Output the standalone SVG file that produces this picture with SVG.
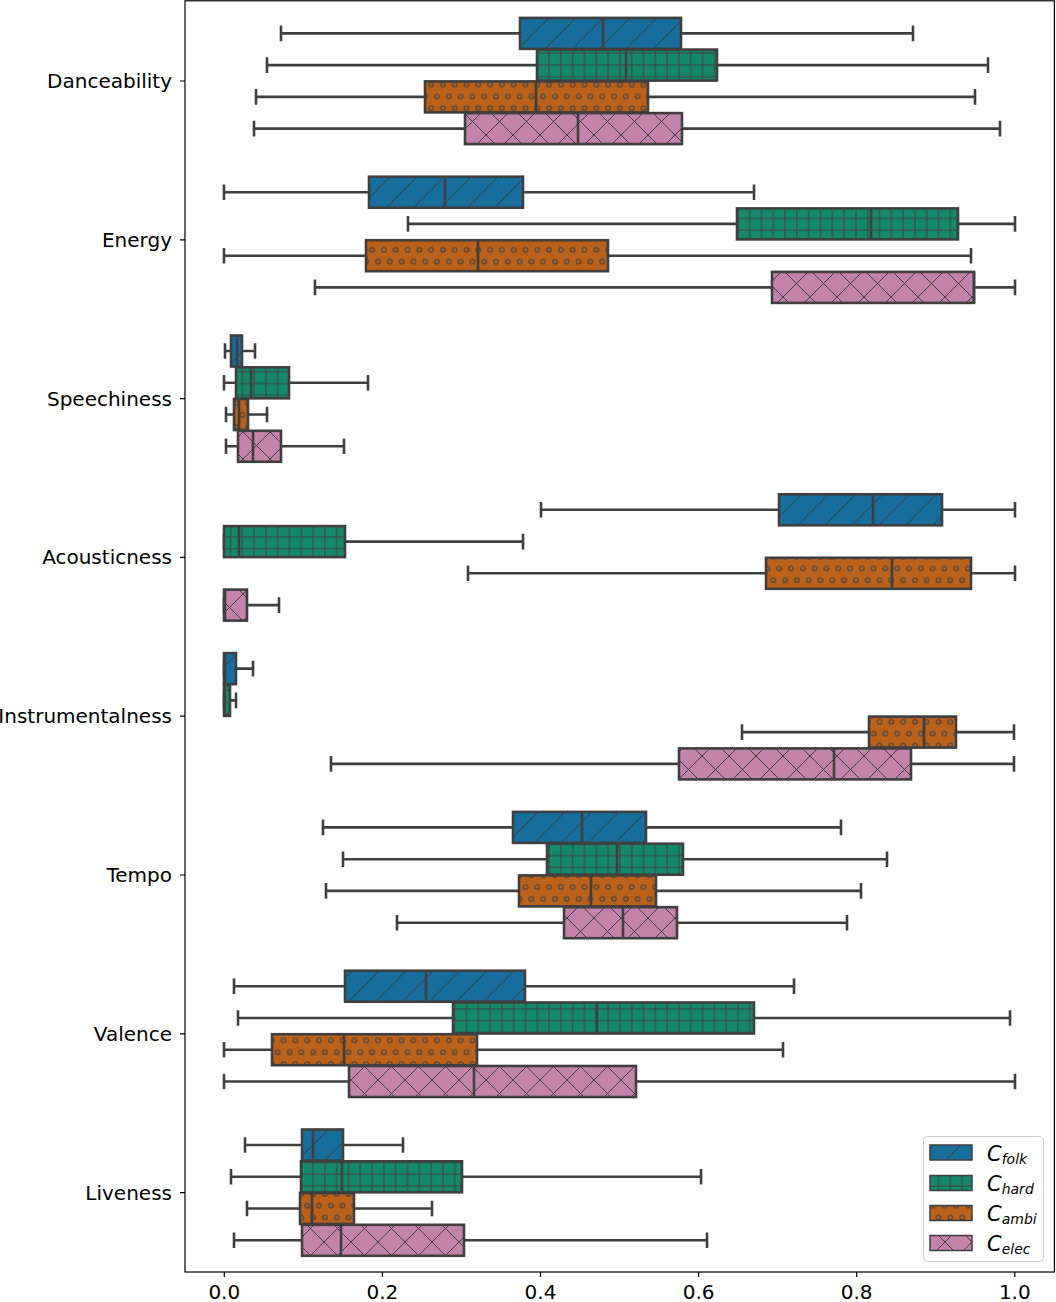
<svg xmlns="http://www.w3.org/2000/svg" width="1056" height="1302" viewBox="0 0 1056 1302">
<defs>
<style>
.wk{fill:none;stroke:#3f3f3f;stroke-width:2.6}
.bx{stroke:#3f3f3f;stroke-width:2.6}
.md{fill:none;stroke:#3f3f3f;stroke-width:2.6}
.pf{fill:url(#hatch-folk)}
.ph{fill:url(#hatch-hard)}
.pa{fill:url(#hatch-ambi)}
.pe{fill:url(#hatch-elec)}
.lbl{font-family:"DejaVu Sans",sans-serif;font-size:20px;fill:#000}
.tk{stroke:#000;stroke-width:1.2}
.lg{font-family:"DejaVu Sans",sans-serif;font-style:italic;fill:#000}
</style>
<pattern id="hatch-folk" patternUnits="userSpaceOnUse" width="27" height="27">
<rect width="27" height="27" fill="#176d9c"/>
<path d="M-1 28L28 -1M-1 1L1 -1M26 28L28 26" stroke="#3f3f3f" stroke-width="1"/>
</pattern>
<pattern id="hatch-hard" patternUnits="userSpaceOnUse" width="11.8" height="11.8" x="0.4">
<rect width="11.8" height="11.8" fill="#158a6a"/>
<path d="M5.9 0V11.8M0 5.9H11.8" stroke="#3f3f3f" stroke-width="1"/>
</pattern>
<pattern id="hatch-ambi" patternUnits="userSpaceOnUse" width="11.8" height="23.6" x="0.4" y="2">
<rect width="11.8" height="23.6" fill="#ba611b"/>
<g fill="none" stroke="#3f3f3f" stroke-width="1">
<circle cx="0" cy="0" r="2.3"/><circle cx="11.8" cy="0" r="2.3"/><circle cx="0" cy="23.6" r="2.3"/><circle cx="11.8" cy="23.6" r="2.3"/><circle cx="5.9" cy="11.8" r="2.3"/>
</g>
</pattern>
<pattern id="hatch-elec" patternUnits="userSpaceOnUse" width="27" height="27">
<rect width="27" height="27" fill="#c383ab"/>
<path d="M-1 28L28 -1M-1 1L1 -1M26 28L28 26M-1 -1L28 28M-1 26L1 28M26 -1L28 1" stroke="#3f3f3f" stroke-width="1"/>
</pattern>
</defs>
<rect width="1056" height="1302" fill="#fff"/>

<g id="axes">
<rect x="185" y="0.8" width="869.4" height="1271.2" fill="none" stroke="#000" stroke-width="1.2"/>
<g class="tk">
<path d="M180 81H185M180 239.8H185M180 398.6H185M180 557.4H185M180 716.2H185M180 875H185M180 1033.8H185M180 1192.6H185"/>
<path d="M224.3 1272V1277M382.4 1272V1277M540.5 1272V1277M698.6 1272V1277M856.7 1272V1277M1014.8 1272V1277"/>
</g>
<g class="lbl" text-anchor="end">
<text x="172" y="88">Danceability</text>
<text x="172" y="246.8">Energy</text>
<text x="172" y="405.6">Speechiness</text>
<text x="172" y="564.4">Acousticness</text>
<text x="172" y="723.2">Instrumentalness</text>
<text x="172" y="882">Tempo</text>
<text x="172" y="1040.8">Valence</text>
<text x="172" y="1199.6">Liveness</text>
</g>
<g class="lbl" text-anchor="middle">
<text x="224.3" y="1299">0.0</text>
<text x="382.4" y="1299">0.2</text>
<text x="540.5" y="1299">0.4</text>
<text x="698.6" y="1299">0.6</text>
<text x="856.7" y="1299">0.8</text>
<text x="1014.8" y="1299">1.0</text>
</g>
</g>

<g id="boxes">
<g id="danceability-folk"><path class="wk" d="M281 33.4H520M681 33.4H913M281 25.6V41.2M913 25.6V41.2"/><rect class="bx pf" x="520" y="17.9" width="161" height="31"/><path class="md" d="M603 17.9V48.9"/></g>
<g id="danceability-hard"><path class="wk" d="M267 65.1H537M717 65.1H988M267 57.3V72.9M988 57.3V72.9"/><rect class="bx ph" x="537" y="49.6" width="180" height="31"/><path class="md" d="M626 49.6V80.6"/></g>
<g id="danceability-ambi"><path class="wk" d="M256 96.9H425M648 96.9H975M256 89.1V104.7M975 89.1V104.7"/><rect class="bx pa" x="425" y="81.4" width="223" height="31"/><path class="md" d="M536 81.4V112.4"/></g>
<g id="danceability-elec"><path class="wk" d="M254 128.6H465M682 128.6H1000M254 120.8V136.4M1000 120.8V136.4"/><rect class="bx pe" x="465" y="113.1" width="217" height="31"/><path class="md" d="M578 113.1V144.1"/></g>

<g id="energy-folk"><path class="wk" d="M224 192.2H369M523 192.2H754M224 184.4V200M754 184.4V200"/><rect class="bx pf" x="369" y="176.7" width="154" height="31"/><path class="md" d="M445 176.7V207.7"/></g>
<g id="energy-hard"><path class="wk" d="M408 223.9H737M958 223.9H1015M408 216.1V231.7M1015 216.1V231.7"/><rect class="bx ph" x="737" y="208.4" width="221" height="31"/><path class="md" d="M871 208.4V239.4"/></g>
<g id="energy-ambi"><path class="wk" d="M224 255.7H366M608 255.7H971M224 247.9V263.5M971 247.9V263.5"/><rect class="bx pa" x="366" y="240.2" width="242" height="31"/><path class="md" d="M478 240.2V271.2"/></g>
<g id="energy-elec"><path class="wk" d="M315 287.4H772M974 287.4H1015M315 279.6V295.2M1015 279.6V295.2"/><rect class="bx pe" x="772" y="271.9" width="202" height="31"/><path class="md" d="M974 271.9V302.9"/></g>

<g id="speechiness-folk"><path class="wk" d="M225 351H231M242 351H255M225 343.2V358.8M255 343.2V358.8"/><rect class="bx pf" x="231" y="335.5" width="11" height="31"/><path class="md" d="M237 335.5V366.5"/></g>
<g id="speechiness-hard"><path class="wk" d="M224 382.8H236M289 382.8H368M224 375V390.6M368 375V390.6"/><rect class="bx ph" x="236" y="367.3" width="53" height="31"/><path class="md" d="M251 367.3V398.3"/></g>
<g id="speechiness-ambi"><path class="wk" d="M226 414.5H234M248 414.5H267M226 406.7V422.3M267 406.7V422.3"/><rect class="bx pa" x="234" y="399" width="14" height="31"/><path class="md" d="M239 399V430"/></g>
<g id="speechiness-elec"><path class="wk" d="M226 446.3H238M281 446.3H344M226 438.5V454.1M344 438.5V454.1"/><rect class="bx pe" x="238" y="430.8" width="43" height="31"/><path class="md" d="M253 430.8V461.8"/></g>

<g id="acousticness-folk"><path class="wk" d="M541 509.8H779M942 509.8H1015M541 502V517.6M1015 502V517.6"/><rect class="bx pf" x="779" y="494.3" width="163" height="31"/><path class="md" d="M873 494.3V525.3"/></g>
<g id="acousticness-hard"><path class="wk" d="M345 541.6H523M224 533.8V549.4M523 533.8V549.4"/><rect class="bx ph" x="224" y="526.1" width="121" height="31"/><path class="md" d="M239 526.1V557.1"/></g>
<g id="acousticness-ambi"><path class="wk" d="M468 573.3H766M971 573.3H1015M468 565.5V581.1M1015 565.5V581.1"/><rect class="bx pa" x="766" y="557.8" width="205" height="31"/><path class="md" d="M892 557.8V588.8"/></g>
<g id="acousticness-elec"><path class="wk" d="M247 605.1H279M224 597.3V612.9M279 597.3V612.9"/><rect class="bx pe" x="224" y="589.6" width="23" height="31"/><path class="md" d="M225 589.6V620.6"/></g>

<g id="instrumentalness-folk"><path class="wk" d="M236 668.6H253M224 660.8V676.4M253 660.8V676.4"/><rect class="bx pf" x="224" y="653.1" width="12" height="31"/><path class="md" d="M225 653.1V684.1"/></g>
<g id="instrumentalness-hard"><path class="wk" d="M230 700.4H236M224 692.6V708.2M236 692.6V708.2"/><rect class="bx ph" x="224" y="684.9" width="6" height="31"/><path class="md" d="M224.5 684.9V715.9"/></g>
<g id="instrumentalness-ambi"><path class="wk" d="M742 732.1H869M956 732.1H1014M742 724.3V739.9M1014 724.3V739.9"/><rect class="bx pa" x="869" y="716.6" width="87" height="31"/><path class="md" d="M924 716.6V747.6"/></g>
<g id="instrumentalness-elec"><path class="wk" d="M331 763.9H679M911 763.9H1014M331 756.1V771.7M1014 756.1V771.7"/><rect class="bx pe" x="679" y="748.4" width="232" height="31"/><path class="md" d="M834 748.4V779.4"/></g>

<g id="tempo-folk"><path class="wk" d="M323 827.4H513M646 827.4H841M323 819.6V835.2M841 819.6V835.2"/><rect class="bx pf" x="513" y="811.9" width="133" height="31"/><path class="md" d="M582 811.9V842.9"/></g>
<g id="tempo-hard"><path class="wk" d="M343 859.2H547M683 859.2H887M343 851.4V867M887 851.4V867"/><rect class="bx ph" x="547" y="843.7" width="136" height="31"/><path class="md" d="M617 843.7V874.7"/></g>
<g id="tempo-ambi"><path class="wk" d="M326 890.9H519M656 890.9H861M326 883.1V898.7M861 883.1V898.7"/><rect class="bx pa" x="519" y="875.4" width="137" height="31"/><path class="md" d="M591 875.4V906.4"/></g>
<g id="tempo-elec"><path class="wk" d="M397 922.7H564M677 922.7H847M397 914.9V930.5M847 914.9V930.5"/><rect class="bx pe" x="564" y="907.2" width="113" height="31"/><path class="md" d="M623 907.2V938.2"/></g>

<g id="valence-folk"><path class="wk" d="M234 986.2H345M525 986.2H794M234 978.4V994M794 978.4V994"/><rect class="bx pf" x="345" y="970.7" width="180" height="31"/><path class="md" d="M426 970.7V1001.7"/></g>
<g id="valence-hard"><path class="wk" d="M238 1018H453M754 1018H1010M238 1010.2V1025.8M1010 1010.2V1025.8"/><rect class="bx ph" x="453" y="1002.5" width="301" height="31"/><path class="md" d="M597 1002.5V1033.5"/></g>
<g id="valence-ambi"><path class="wk" d="M224 1049.7H272M477 1049.7H783M224 1041.9V1057.5M783 1041.9V1057.5"/><rect class="bx pa" x="272" y="1034.2" width="205" height="31"/><path class="md" d="M344 1034.2V1065.2"/></g>
<g id="valence-elec"><path class="wk" d="M224 1081.5H349M636 1081.5H1015M224 1073.7V1089.3M1015 1073.7V1089.3"/><rect class="bx pe" x="349" y="1066" width="287" height="31"/><path class="md" d="M474 1066V1097"/></g>

<g id="liveness-folk"><path class="wk" d="M245 1145H302M343 1145H403M245 1137.2V1152.8M403 1137.2V1152.8"/><rect class="bx pf" x="302" y="1129.5" width="41" height="31"/><path class="md" d="M313 1129.5V1160.5"/></g>
<g id="liveness-hard"><path class="wk" d="M231 1176.8H301M462 1176.8H701M231 1169V1184.6M701 1169V1184.6"/><rect class="bx ph" x="301" y="1161.3" width="161" height="31"/><path class="md" d="M342 1161.3V1192.3"/></g>
<g id="liveness-ambi"><path class="wk" d="M247 1208.5H300M354 1208.5H432M247 1200.7V1216.3M432 1200.7V1216.3"/><rect class="bx pa" x="300" y="1193" width="54" height="31"/><path class="md" d="M312 1193V1224"/></g>
<g id="liveness-elec"><path class="wk" d="M234 1240.3H302M464 1240.3H707M234 1232.5V1248.1M707 1232.5V1248.1"/><rect class="bx pe" x="302" y="1224.8" width="162" height="31"/><path class="md" d="M341 1224.8V1255.8"/></g>
</g>

<g id="legend">
<rect x="923.5" y="1136.5" width="120" height="125" rx="4" fill="#fff" fill-opacity="0.8" stroke="#cccccc" stroke-width="1"/>
<rect class="pf" x="930" y="1145" width="42" height="15" stroke="#3f3f3f" stroke-width="1.5"/>
<rect class="ph" x="930" y="1175.5" width="42" height="15" stroke="#3f3f3f" stroke-width="1.5"/>
<rect class="pa" x="930" y="1205.5" width="42" height="15" stroke="#3f3f3f" stroke-width="1.5"/>
<rect class="pe" x="930" y="1235.5" width="42" height="15" stroke="#3f3f3f" stroke-width="1.5"/>
<text class="lg" x="987" y="1160.5" font-size="21">C<tspan font-size="14" dy="3">folk</tspan></text>
<text class="lg" x="987" y="1190.5" font-size="21">C<tspan font-size="14" dy="3">hard</tspan></text>
<text class="lg" x="987" y="1220.5" font-size="21">C<tspan font-size="14" dy="3">ambi</tspan></text>
<text class="lg" x="987" y="1250.5" font-size="21">C<tspan font-size="14" dy="3">elec</tspan></text>
</g>
</svg>
